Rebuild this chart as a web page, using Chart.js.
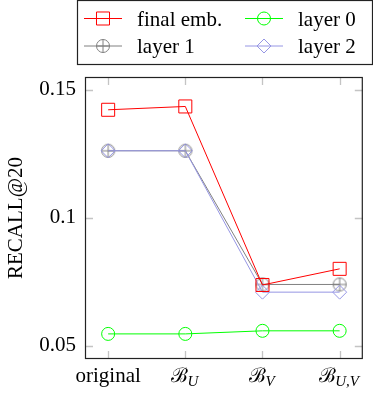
<!DOCTYPE html>
<html>
<head>
<meta charset="utf-8">
<script src="https://cdn.jsdelivr.net/npm/chart.js@4/dist/chart.umd.min.js"></script>
<style>
  html, body { margin: 0; padding: 0; background: #fff; overflow: hidden; }
  canvas { display: block; }
</style>
</head>
<body>
<canvas id="c" width="373" height="396" style="width:373px;height:396px"></canvas>
<script>
// ── Data ──────────────────────────────────────────────────
const categories = ['original', 'B_U', 'B_V', 'B_U,V'];
const finalEmb = [0.1422, 0.1435, 0.0738, 0.0801];
const layer0 = [0.0547, 0.0547, 0.0559, 0.0559];
const layer1 = [0.1262, 0.1262, 0.0740, 0.0740];
const layer2 = [0.1262, 0.1262, 0.0710, 0.0710];
const yTicks = [0.05, 0.1, 0.15];
const yTickLabels = ['0.05', '0.1', '0.15'];

const FONT = '"Liberation Serif", "DejaVu Serif", serif';
const RED = '#ff0000', GREEN = '#00ff00', GRAY = '#808080', LAV = 'rgb(150,150,228)';

// circle with a plus inside (pgfplots oplus)
function circlePlus(color, r) {
  const c = document.createElement('canvas');
  const s = Math.ceil(r * 2 + 3);
  c.width = c.height = s;
  const g = c.getContext('2d');
  const m = s / 2;
  g.strokeStyle = color;
  g.lineWidth = 1;
  g.beginPath();
  g.arc(m, m, r, 0, 2 * Math.PI);
  g.moveTo(m - r, m); g.lineTo(m + r, m);
  g.moveTo(m, m - r); g.lineTo(m, m + r);
  g.stroke();
  return c;
}

function pts(arr) {
  return arr.map(function (v, i) { return { x: i, y: v }; });
}

const series = [
  { label: 'final emb.', data: finalEmb, color: RED, style: 'rect', radius: 9.2, order: 0 },
  { label: 'layer 0', data: layer0, color: GREEN, style: 'circle', radius: 6.5, order: 3 },
  { label: 'layer 1', data: layer1, color: GRAY, style: circlePlus(GRAY, 6.5), radius: 6.5, order: 2 },
  { label: 'layer 2', data: layer2, color: LAV, style: 'rectRot', radius: 7, order: 1 },
];

// ── Plugins ───────────────────────────────────────────────
const frame = {
  id: 'frame',
  beforeDatasetsDraw(chart) {
    const a = chart.chartArea, ctx = chart.ctx;
    const xs = chart.scales.x, ys = chart.scales.y;
    ctx.save();
    ctx.strokeStyle = '#c4c4c4';
    ctx.lineWidth = 1.3;
    ctx.beginPath();
    categories.forEach(function (_, i) {
      const px = Math.round(xs.getPixelForValue(i)) + 0.5;
      ctx.moveTo(px, a.top); ctx.lineTo(px, a.top + 8);
      ctx.moveTo(px, a.bottom); ctx.lineTo(px, a.bottom - 8);
    });
    yTicks.forEach(function (v) {
      const py = Math.round(ys.getPixelForValue(v)) + 0.5;
      ctx.moveTo(a.left, py); ctx.lineTo(a.left + 8, py);
      ctx.moveTo(a.right, py); ctx.lineTo(a.right - 8, py);
    });
    ctx.stroke();
    ctx.restore();
  },
  afterDraw(chart) {
    const a = chart.chartArea, ctx = chart.ctx;
    ctx.save();
    ctx.strokeStyle = '#222';
    ctx.lineWidth = 1.2;
    ctx.strokeRect(a.left + 0.5, a.top + 0.5, a.right - a.left - 1, a.bottom - a.top - 1);

    // x tick labels (calligraphic B with subscripts)
    const xs = chart.scales.x;
    const base = 382;
    ctx.fillStyle = '#000';
    ctx.textBaseline = 'alphabetic';
    categories.forEach(function (cat, i) {
      const cx = xs.getPixelForValue(i);
      if (cat.indexOf('_') < 0) {
        ctx.font = '21px ' + FONT;
        ctx.textAlign = 'center';
        ctx.fillText(cat, cx, base);
        return;
      }
      const parts = cat.split('_');
      ctx.font = '20px ' + FONT;
      const bw = ctx.measureText('ℬ').width;
      ctx.font = 'italic 15px ' + FONT;
      const sw = ctx.measureText(parts[1]).width;
      const x0 = cx - (bw + sw) / 2;
      ctx.textAlign = 'left';
      ctx.font = '20px ' + FONT;
      ctx.fillText('ℬ', x0, base);
      ctx.font = 'italic 15px ' + FONT;
      ctx.fillText(parts[1], x0 + bw - 1, base + 4);
    });

    // legend
    const lx = 77.5, ly = 0.5, lw = 295, lh = 64;
    ctx.fillStyle = '#fff';
    ctx.fillRect(lx, ly, lw, lh);
    ctx.strokeStyle = '#222';
    ctx.lineWidth = 1.2;
    ctx.strokeRect(lx, ly, lw, lh);
    const slots = [
      { s: series[0], x: 84, y: 18.5 },
      { s: series[1], x: 245, y: 18.5 },
      { s: series[2], x: 84, y: 46 },
      { s: series[3], x: 245, y: 46 },
    ];
    slots.forEach(function (o) {
      ctx.strokeStyle = o.s.color;
      ctx.lineWidth = 1;
      ctx.beginPath();
      ctx.moveTo(o.x, o.y); ctx.lineTo(o.x + 38, o.y);
      ctx.stroke();
      ctx.fillStyle = 'rgba(0,0,0,0)';
      Chart.helpers.drawPoint(ctx, { pointStyle: o.s.style, radius: o.s.radius, borderWidth: 1, rotation: 0 }, o.x + 19, o.y);
      ctx.fillStyle = '#000';
      ctx.font = '21px ' + FONT;
      ctx.textAlign = 'left';
      ctx.fillText(o.s.label, o.x + 53, o.y + 7);
    });
    ctx.restore();
  }
};

// ── Chart ────────────────────────────────────────────────
new Chart(document.getElementById('c'), {
  type: 'line',
  data: {
    datasets: series.map(function (s) {
      return {
        label: s.label,
        data: pts(s.data),
        borderColor: s.color,
        backgroundColor: 'rgba(0,0,0,0)',
        borderWidth: 1,
        pointStyle: s.style,
        pointRadius: s.radius,
        pointHoverRadius: s.radius,
        pointBorderWidth: 1,
        pointBorderColor: s.color,
        pointBackgroundColor: 'rgba(0,0,0,0)',
        tension: 0,
        order: s.order,
      };
    }),
  },
  options: {
    responsive: false,
    animation: false,
    devicePixelRatio: 1,
    layout: { padding: { left: 0, top: 77, right: 8, bottom: 0 } },
    plugins: { legend: { display: false }, tooltip: { enabled: false } },
    scales: {
      x: {
        type: 'linear',
        min: -0.3,
        max: 3.3,
        grid: { display: false, drawTicks: false },
        border: { display: false },
        ticks: { display: false },
        afterFit: function (s) { s.height = 37; },
      },
      y: {
        min: 0.0449,
        max: 0.155,
        grid: { display: false, drawTicks: false },
        border: { display: false },
        afterBuildTicks: function (s) { s.ticks = yTicks.map(function (v) { return { value: v }; }); },
        ticks: {
          padding: 9,
          color: '#000',
          font: { family: FONT, size: 21 },
          callback: function (v) { return yTickLabels[yTicks.indexOf(v)]; },
        },
        title: {
          display: true,
          text: 'RECALL@20',
          color: '#000',
          font: { family: FONT, size: 21 },
          padding: { top: 4, bottom: 0 },
        },
        afterFit: function (s) { s.width = 85; },
      },
    },
  },
  plugins: [frame],
});
</script>
</body>
</html>
